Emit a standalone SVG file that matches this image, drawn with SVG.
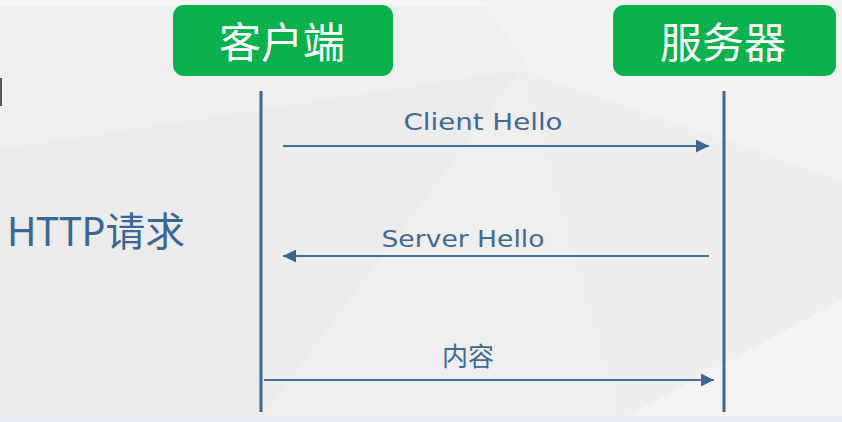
<svg xmlns="http://www.w3.org/2000/svg" width="842" height="422" viewBox="0 0 842 422">
<style>
.box{fill:#0bb14c}
.btxt{fill:#ffffff;font-family:"Noto Sans CJK SC","Noto Sans",sans-serif;font-size:42px;text-anchor:middle}
.life{stroke:#3d6691;stroke-width:3;fill:none}
.msg{stroke:#44709c;stroke-width:1.8;fill:none}
.lbl{fill:#3f6a98;font-family:"DejaVu Sans","Noto Sans CJK SC",sans-serif;font-size:23px;text-anchor:middle}
.lblc{fill:#3f6a98;font-family:"Noto Sans CJK SC",sans-serif;font-size:26px;text-anchor:middle}
.side{fill:#3c6794;font-family:"Noto Sans","Noto Sans CJK SC",sans-serif;font-size:40px}
</style>
<defs>
<marker id="ah" viewBox="0 0 10 10" refX="10" refY="5" markerWidth="13" markerHeight="13" markerUnits="userSpaceOnUse" orient="auto-start-reverse">
<path d="M0,0 L10,5 L0,10 z" fill="#3d6691"/>
</marker>
</defs>
<rect x="0" y="0" width="842" height="422" fill="#efefef"/>
<polygon points="0,0 842,0 842,6 0,6" fill="#f6f6f6"/>
<polygon points="0,150 520,70 260,420 0,420" fill="#ececec"/>
<polygon points="480,0 842,0 842,180 700,300" fill="#f2f2f2"/>
<polygon points="520,70 842,180 842,420 620,420" fill="#eeeeee"/>
<polygon points="620,420 842,300 842,420" fill="#f4f4f4"/>
<rect x="0" y="416" width="842" height="6" fill="#e8eef4"/>
<rect x="0" y="78" width="2" height="28" fill="#555"/>
<g id="client">
<rect class="box" x="173" y="5" width="220" height="71" rx="11"/>
<text class="btxt" x="282" y="58">客户端</text>
<line class="life" x1="261" y1="91" x2="261" y2="412"/>
</g>
<g id="server">
<rect class="box" x="613" y="5" width="223" height="71" rx="11"/>
<text class="btxt" x="723" y="58">服务器</text>
<line class="life" x1="724" y1="91" x2="724" y2="412"/>
</g>
<g id="http">
<text class="side" x="7" y="246" textLength="178" lengthAdjust="spacingAndGlyphs">HTTP请求</text>
</g>
<g id="connectors">
<line class="msg" x1="283" y1="146" x2="709" y2="146" marker-end="url(#ah)"/>
<text class="lbl" x="483" y="130" textLength="159" lengthAdjust="spacingAndGlyphs">Client Hello</text>
<line class="msg" x1="709" y1="256" x2="283" y2="256" marker-end="url(#ah)"/>
<text class="lbl" x="463" y="247" textLength="163" lengthAdjust="spacingAndGlyphs">Server Hello</text>
<line class="msg" x1="264" y1="380" x2="714" y2="380" marker-end="url(#ah)"/>
<text class="lblc" x="468" y="366">内容</text>
</g>
</svg>
